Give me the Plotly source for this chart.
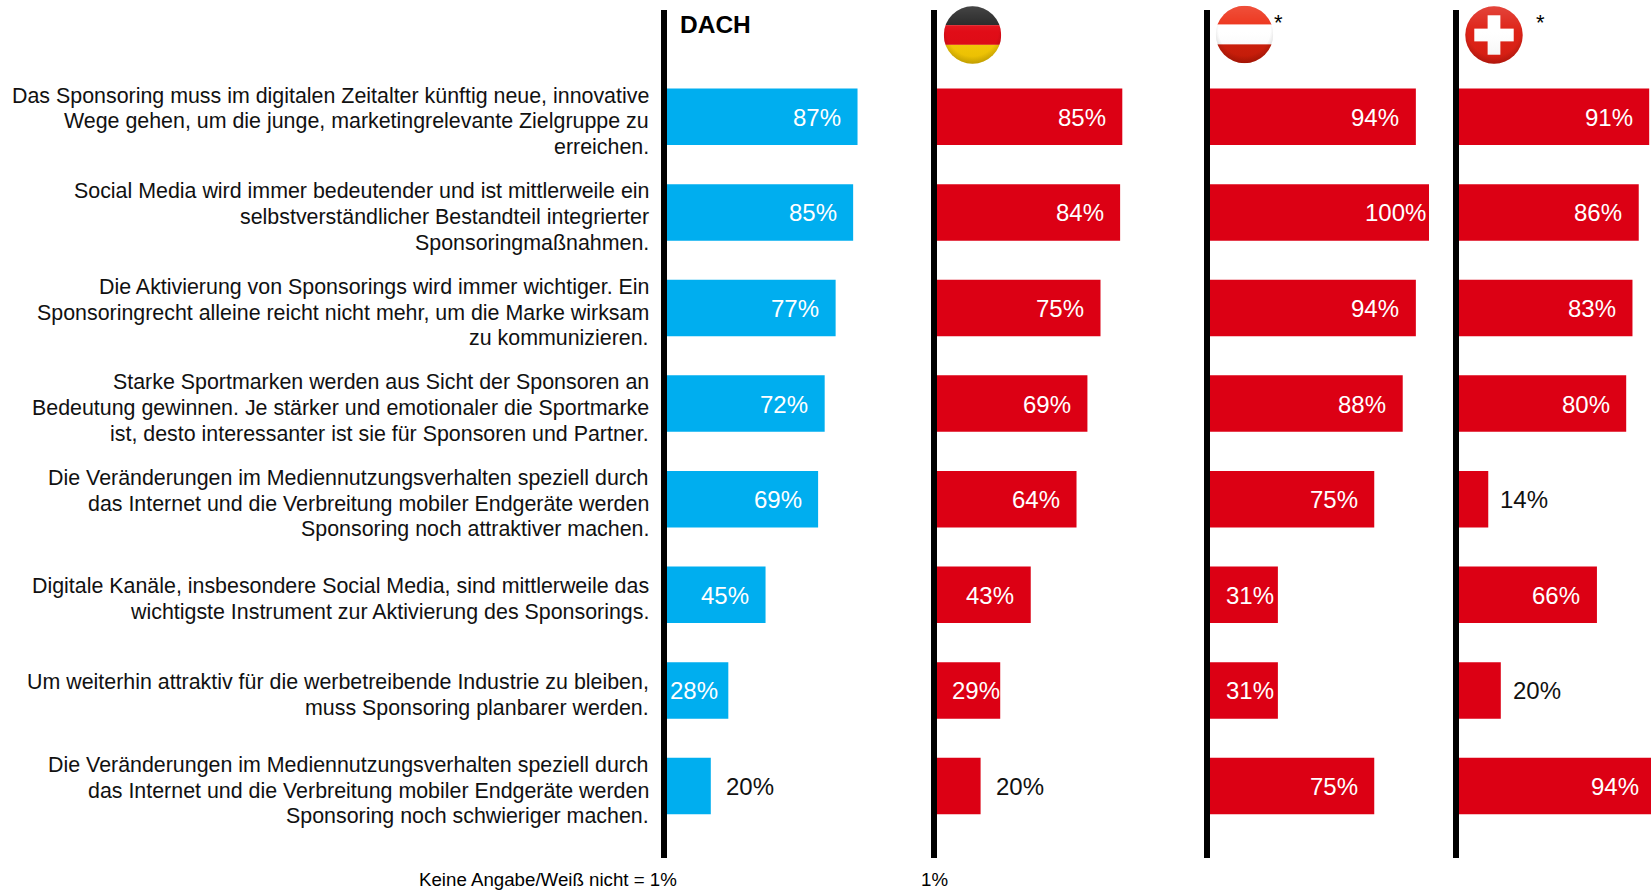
import base64
import plotly.graph_objects as go

W, H = 1665, 890  # window crops the page at 1651, which cuts the longest Swiss bar as in the source

statements = [
    "Das Sponsoring muss im digitalen Zeitalter künftig neue, innovative<br>Wege gehen, um die junge, marketingrelevante Zielgruppe zu<br>erreichen.",
    "Social Media wird immer bedeutender und ist mittlerweile ein<br>selbstverständlicher Bestandteil integrierter<br>Sponsoringmaßnahmen.",
    "Die Aktivierung von Sponsorings wird immer wichtiger. Ein<br>Sponsoringrecht alleine reicht nicht mehr, um die Marke wirksam<br>zu kommunizieren.",
    "Starke Sportmarken werden aus Sicht der Sponsoren an<br>Bedeutung gewinnen. Je stärker und emotionaler die Sportmarke<br>ist, desto interessanter ist sie für Sponsoren und Partner.",
    "Die Veränderungen im Mediennutzungsverhalten speziell durch<br>das Internet und die Verbreitung mobiler Endgeräte werden<br>Sponsoring noch attraktiver machen.",
    "Digitale Kanäle, insbesondere Social Media, sind mittlerweile das<br>wichtigste Instrument zur Aktivierung des Sponsorings.",
    "Um weiterhin attraktiv für die werbetreibende Industrie zu bleiben,<br>muss Sponsoring planbarer werden.",
    "Die Veränderungen im Mediennutzungsverhalten speziell durch<br>das Internet und die Verbreitung mobiler Endgeräte werden<br>Sponsoring noch schwieriger machen.",
]
dach = [87, 85, 77, 72, 69, 45, 28, 20]
germany = [85, 84, 75, 69, 64, 43, 29, 20]
austria = [94, 100, 94, 88, 75, 31, 31, 75]
switzerland = [91, 86, 83, 80, 14, 66, 20, 94]

BLUE = "#00AEEF"
RED = "#DC0014"

# name, values, colour, bar start px, right edge px, px per percent
panels = [
    ("DACH", dach, BLUE, 667, 900, 2.19),
    ("DE", germany, RED, 937, 1190, 2.18),
    ("AT", austria, RED, 1210, 1440, 2.19),
    ("CH", switzerland, RED, 1459, W, 2.09),
]
# label placement: default sits just inside the bar end
inside_shift = {("DACH", 6): -8, ("DE", 6): 2, ("AT", 1): -1, ("AT", 5): -2, ("AT", 6): -2}
outside_shift = {("DACH", 7): 13, ("DE", 7): 13, ("CH", 4): 10, ("CH", 6): 10}

ROW_PITCH = 95.6
FIRST_ROW = 116.8
TOP, BOTTOM = 10, 858
LINE_PITCH = 25.7
TEXT_RIGHT = 650.5

fig = go.Figure()
annotations = []
layout = {}
for i, (name, vals, col, x0, x1, scale) in enumerate(panels, start=1):
    sx = "" if i == 1 else str(i)
    fig.add_trace(go.Bar(
        x=vals, y=statements, orientation="h", marker=dict(color=col, line=dict(width=0)),
        xaxis=f"x{sx}", yaxis=f"y{sx}", width=56.5 / ROW_PITCH, showlegend=False,
        hoverinfo="x+y",
    ))
    layout[f"xaxis{sx}"] = dict(
        domain=[x0 / W, x1 / W], range=[0, (x1 - x0) / scale], visible=False, fixedrange=True,
        anchor=f"y{sx}",
    )
    layout[f"yaxis{sx}"] = dict(
        domain=[1 - BOTTOM / H, 1 - TOP / H],
        range=[(BOTTOM - FIRST_ROW) / ROW_PITCH, -(FIRST_ROW - TOP) / ROW_PITCH],
        type="category", categoryorder="array", categoryarray=statements,
        showline=True, linecolor="#000000", linewidth=6, showgrid=False, zeroline=False,
        ticks="", anchor=f"x{sx}", fixedrange=True, showticklabels=False,
    )
    for j, v in enumerate(vals):
        out = (name, j) in outside_shift
        annotations.append(dict(
            x=v, y=statements[j], xref=f"x{sx}", yref=f"y{sx}", text=f"{v}%", showarrow=False,
            xanchor="left" if out else "right", yshift=-0.5,
            xshift=outside_shift[(name, j)] if out else inside_shift.get((name, j), -14.5),
            font=dict(family="Liberation Sans", size=24, color="#111111" if out else "#FFFFFF"),
        ))

# statements: one right-aligned text per line, at the source's tight line pitch
for s in statements:
    lines = s.split("<br>")
    for k, line in enumerate(lines):
        annotations.append(dict(
            x=TEXT_RIGHT / W, xref="paper", y=s, yref="y", text=line, showarrow=False,
            xanchor="right", yanchor="middle", yshift=((len(lines) - 1) / 2 - k) * LINE_PITCH - 4.5,
            font=dict(family="Liberation Sans", size=21.4, color="#111111"),
        ))


def text(x, y, s, size, **kw):
    annotations.append(dict(
        x=x / W, y=1 - y / H, xref="paper", yref="paper", text=s, showarrow=False,
        font=dict(family="Liberation Sans", size=size, color="#000000"),
        xanchor=kw.pop("xanchor", "center"), yanchor="middle", **kw,
    ))


text(678, 25, "<b>DACH</b>", 24.5, xanchor="left")
text(1278, 22, "*", 22)
text(1540, 22, "*", 22)
text(548, 879.5, "Keine Angabe/Weiß nicht = 1%", 18.7)
text(934, 879.5, "1%", 18.7)


def flag(body):
    svg = f"""<svg xmlns="http://www.w3.org/2000/svg" viewBox="0 0 100 100">
<defs><clipPath id="c"><circle cx="50" cy="50" r="49.5"/></clipPath>
<radialGradient id="s" cx="50%" cy="42%" r="62%"><stop offset="0.72" stop-color="#000" stop-opacity="0"/>
<stop offset="1" stop-color="#000" stop-opacity="0.22"/></radialGradient>
<linearGradient id="g" x1="0" y1="0" x2="0" y2="1"><stop offset="0" stop-color="#fff" stop-opacity="0.18"/>
<stop offset="0.45" stop-color="#fff" stop-opacity="0.03"/><stop offset="1" stop-color="#000" stop-opacity="0.06"/></linearGradient></defs>
<g clip-path="url(#c)">{body}<rect width="100" height="100" fill="url(#g)"/><rect width="100" height="100" fill="url(#s)"/></g></svg>"""
    return "data:image/svg+xml;base64," + base64.b64encode(svg.encode()).decode()


flag_de = flag('<rect width="100" height="33" fill="#1c1c1c"/><rect y="33" width="100" height="34" fill="#E00510"/><rect y="67" width="100" height="33" fill="#F5C800"/>')
flag_at = flag('<rect width="100" height="33" fill="#EC2A10"/><rect y="33" width="100" height="34" fill="#FFFFFF"/><rect y="67" width="100" height="33" fill="#CC1A06"/>')
flag_ch = flag('<rect width="100" height="100" fill="#DD1C10"/><rect x="39" y="16" width="22" height="68" fill="#fff"/><rect x="16" y="39" width="68" height="22" fill="#fff"/>')

images = [
    dict(source=s, xref="paper", yref="paper", x=x / W, y=1 - y / H, sizex=58 / W, sizey=58 / H,
         xanchor="left", yanchor="top", sizing="stretch", layer="above")
    for s, x, y in [(flag_de, 943.5, 6), (flag_at, 1215.5, 5.5), (flag_ch, 1465, 6)]
]

fig.update_layout(
    width=W, height=H, margin=dict(l=0, r=0, t=0, b=0), autosize=False,
    paper_bgcolor="#FFFFFF", plot_bgcolor="#FFFFFF", bargap=0.41, showlegend=False,
    annotations=annotations, images=images, **layout,
)
fig.write_html(
    "out.html", config={"displayModeBar": False, "responsive": False},
    post_script="document.body.style.margin='0';document.documentElement.style.overflow='hidden';document.body.style.overflow='hidden';",
)
